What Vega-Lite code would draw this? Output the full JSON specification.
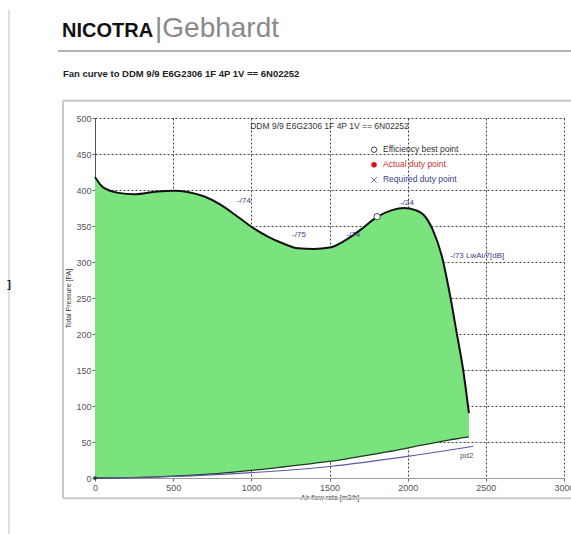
{
  "$schema": "https://vega.github.io/schema/vega-lite/v6.json",
  "autosize": {"type": "none"},
  "width": 469,
  "height": 360,
  "padding": {"left": 95, "top": 118, "right": 7, "bottom": 56},
  "background": "white",
  "config": {
    "view": {"stroke": null},
    "font": "Liberation Sans",
    "axis": {
      "grid": true,
      "gridDash": [2, 2],
      "gridColor": "#222",
      "gridOpacity": 0.85,
      "gridWidth": 1,
      "labelFont": "Liberation Sans",
      "labelFontSize": 9,
      "labelColor": "#555",
      "labelOverlap": false,
      "labelFlush": false,
      "format": "d",
      "tickSize": 3,
      "tickColor": "#666",
      "titleFont": "Liberation Sans",
      "titleFontSize": 7,
      "titleFontWeight": "normal",
      "titleColor": "#333",
      "zindex": 1
    },
    "axisX": {"tickCount": 6, "domainColor": "#999", "labelPadding": 2, "titlePadding": 1},
    "axisY": {"tickCount": 10, "domainColor": "#555", "labelPadding": 1, "titlePadding": 4}
  },
  "datasets": {
    "curve": [
      {"flow": 0, "fan": 418, "sys": 0},
      {"flow": 50, "fan": 404, "sys": 0},
      {"flow": 150, "fan": 396, "sys": 0.2},
      {"flow": 250, "fan": 394, "sys": 0.6},
      {"flow": 400, "fan": 398, "sys": 1.6},
      {"flow": 500, "fan": 399, "sys": 2.5},
      {"flow": 600, "fan": 397, "sys": 3.6},
      {"flow": 700, "fan": 391, "sys": 5},
      {"flow": 800, "fan": 380, "sys": 6.5},
      {"flow": 900, "fan": 365, "sys": 8.5},
      {"flow": 1000, "fan": 349, "sys": 10.5},
      {"flow": 1100, "fan": 336, "sys": 12.8},
      {"flow": 1200, "fan": 326, "sys": 15.3},
      {"flow": 1300, "fan": 319, "sys": 17.8},
      {"flow": 1400, "fan": 318, "sys": 20.4},
      {"flow": 1500, "fan": 320, "sys": 23},
      {"flow": 1600, "fan": 330, "sys": 26.3},
      {"flow": 1700, "fan": 345, "sys": 30},
      {"flow": 1800, "fan": 362, "sys": 33.5},
      {"flow": 1900, "fan": 372, "sys": 37.5},
      {"flow": 1975, "fan": 375, "sys": 40.5},
      {"flow": 2050, "fan": 372, "sys": 44},
      {"flow": 2100, "fan": 366, "sys": 46},
      {"flow": 2160, "fan": 345, "sys": 48.5},
      {"flow": 2220, "fan": 307, "sys": 51},
      {"flow": 2270, "fan": 255, "sys": 53},
      {"flow": 2315, "fan": 200, "sys": 54.5},
      {"flow": 2355, "fan": 150, "sys": 56},
      {"flow": 2392, "fan": 90, "sys": 57}
    ],
    "pd2": [
      {"flow": 0, "p": 0},
      {"flow": 500, "p": 2},
      {"flow": 1000, "p": 7.5},
      {"flow": 1500, "p": 16},
      {"flow": 2000, "p": 30},
      {"flow": 2420, "p": 44}
    ],
    "labels": [
      {"flow": 953, "p": 385, "t": "-/74"},
      {"flow": 1305, "p": 337, "t": "-/75"},
      {"flow": 1652, "p": 337, "t": "-/74"},
      {"flow": 1996, "p": 382, "t": "-/24"}
    ]
  },
  "layer": [
    {
      "data": {"values": [{}]},
      "mark": {"type": "rule", "stroke": "#c8c8c8", "strokeWidth": 2},
      "encoding": {
        "x": {"datum": -205, "type": "quantitative", "scale": {"domain": [0, 3000], "nice": false}, "axis": {"title": "Air flow rate [m3/h]"}},
        "x2": {"datum": 3300},
        "y": {"datum": 524, "type": "quantitative", "scale": {"domain": [0, 500], "nice": false}, "axis": {"title": "Total Pressure [PA]"}}
      }
    },
    {
      "data": {"values": [{}]},
      "mark": {"type": "rule", "stroke": "#c8c8c8", "strokeWidth": 2},
      "encoding": {
        "x": {"datum": -205, "type": "quantitative"},
        "x2": {"datum": 3300},
        "y": {"datum": -28, "type": "quantitative"}
      }
    },
    {
      "data": {"values": [{}]},
      "mark": {"type": "rule", "stroke": "#c8c8c8", "strokeWidth": 2},
      "encoding": {
        "x": {"datum": -205, "type": "quantitative"},
        "y": {"datum": 524, "type": "quantitative"},
        "y2": {"datum": -28}
      }
    },
    {
      "data": {"values": [{}]},
      "mark": {"type": "rule", "stroke": "#9a9a9a", "strokeWidth": 1.5},
      "encoding": {
        "x": {"datum": -237, "type": "quantitative"},
        "x2": {"datum": 3045},
        "y": {"datum": 593, "type": "quantitative"}
      }
    },
    {
      "data": {"values": [{}]},
      "mark": {"type": "rule", "stroke": "#d5d5d5", "strokeWidth": 1.5},
      "encoding": {
        "x": {"datum": -550, "type": "quantitative"},
        "y": {"datum": 650, "type": "quantitative"},
        "y2": {"datum": -78}
      }
    },
    {
      "data": {"values": [{"t": "NICOTRA"}]},
      "mark": {"type": "text", "align": "left", "baseline": "alphabetic", "fontSize": 20, "fontWeight": "bold", "color": "#111"},
      "encoding": {
        "x": {"datum": -211, "type": "quantitative"},
        "y": {"datum": 612, "type": "quantitative"},
        "text": {"field": "t"}
      }
    },
    {
      "data": {"values": [{"t": "|Gebhardt"}]},
      "mark": {"type": "text", "align": "left", "baseline": "alphabetic", "fontSize": 28, "color": "#8a8a8a"},
      "encoding": {
        "x": {"datum": 384, "type": "quantitative"},
        "y": {"datum": 612, "type": "quantitative"},
        "text": {"field": "t"}
      }
    },
    {
      "data": {"values": [{"t": "Fan curve to DDM 9/9 E6G2306 1F 4P 1V == 6N02252"}]},
      "mark": {"type": "text", "align": "left", "baseline": "alphabetic", "fontSize": 9.5, "fontWeight": "bold", "color": "#222"},
      "encoding": {
        "x": {"datum": -205, "type": "quantitative"},
        "y": {"datum": 557, "type": "quantitative"},
        "text": {"field": "t"}
      }
    },
    {
      "data": {"values": [{"t": "]"}]},
      "mark": {"type": "text", "align": "center", "baseline": "middle", "fontSize": 11, "fontWeight": "bold", "color": "#222"},
      "encoding": {
        "x": {"datum": -550, "type": "quantitative"},
        "y": {"datum": 268, "type": "quantitative"},
        "text": {"field": "t"}
      }
    },
    {
      "data": {"name": "curve"},
      "mark": {"type": "area", "color": "#7be37d", "interpolate": "monotone", "opacity": 1},
      "encoding": {
        "x": {"field": "flow", "type": "quantitative"},
        "y": {"field": "fan", "type": "quantitative"},
        "y2": {"field": "sys"}
      }
    },
    {
      "data": {"name": "curve"},
      "mark": {"type": "line", "color": "#111", "strokeWidth": 2, "interpolate": "monotone"},
      "encoding": {
        "x": {"field": "flow", "type": "quantitative"},
        "y": {"field": "fan", "type": "quantitative"}
      }
    },
    {
      "data": {"name": "curve"},
      "mark": {"type": "line", "color": "#1d3d1d", "strokeWidth": 1.3, "interpolate": "monotone"},
      "encoding": {
        "x": {"field": "flow", "type": "quantitative"},
        "y": {"field": "sys", "type": "quantitative"}
      }
    },
    {
      "data": {"name": "pd2"},
      "mark": {"type": "line", "color": "#5a5aa6", "strokeWidth": 1.1, "interpolate": "monotone"},
      "encoding": {
        "x": {"field": "flow", "type": "quantitative"},
        "y": {"field": "p", "type": "quantitative"}
      }
    },
    {
      "data": {"values": [{"t": "pd2"}]},
      "mark": {"type": "text", "align": "center", "baseline": "middle", "fontSize": 8, "color": "#555"},
      "encoding": {
        "x": {"datum": 2378, "type": "quantitative"},
        "y": {"datum": 31, "type": "quantitative"},
        "text": {"field": "t"}
      }
    },
    {
      "data": {"name": "labels"},
      "mark": {"type": "text", "align": "center", "baseline": "middle", "fontSize": 8, "color": "#3b3b8c"},
      "encoding": {
        "x": {"field": "flow", "type": "quantitative"},
        "y": {"field": "p", "type": "quantitative"},
        "text": {"field": "t"}
      }
    },
    {
      "data": {"values": [{"t": "-/73 LwAi/7[dB]"}]},
      "mark": {"type": "text", "align": "left", "baseline": "middle", "fontSize": 8, "color": "#3b3b8c"},
      "encoding": {
        "x": {"datum": 2271, "type": "quantitative"},
        "y": {"datum": 308, "type": "quantitative"},
        "text": {"field": "t"}
      }
    },
    {
      "data": {"values": [{"t": "DDM 9/9 E6G2306 1F 4P 1V == 6N02252"}]},
      "mark": {"type": "text", "align": "center", "baseline": "middle", "fontSize": 8.5, "color": "#333"},
      "encoding": {
        "x": {"datum": 1500, "type": "quantitative"},
        "y": {"datum": 489, "type": "quantitative"},
        "text": {"field": "t"}
      }
    },
    {
      "data": {"values": [{"flow": 1805, "p": 363}]},
      "mark": {"type": "point", "shape": "circle", "filled": true, "fill": "white", "stroke": "#444", "strokeWidth": 1, "size": 40, "opacity": 1},
      "encoding": {
        "x": {"field": "flow", "type": "quantitative"},
        "y": {"field": "p", "type": "quantitative"}
      }
    },
    {
      "data": {"values": [{"flow": 0, "p": 0}]},
      "mark": {"type": "point", "shape": "circle", "filled": true, "color": "#333", "size": 14, "opacity": 1},
      "encoding": {
        "x": {"field": "flow", "type": "quantitative"},
        "y": {"field": "p", "type": "quantitative"}
      }
    },
    {
      "data": {"values": [{"t": "Efficiency best point"}]},
      "layer": [
        {
          "mark": {"type": "point", "shape": "circle", "filled": true, "fill": "white", "stroke": "#444", "strokeWidth": 1, "size": 30, "opacity": 1},
          "encoding": {"x": {"datum": 1785, "type": "quantitative"}, "y": {"datum": 456, "type": "quantitative"}}
        },
        {
          "mark": {"type": "text", "align": "left", "baseline": "middle", "fontSize": 8.5, "color": "#333"},
          "encoding": {"x": {"datum": 1842, "type": "quantitative"}, "y": {"datum": 457, "type": "quantitative"}, "text": {"field": "t"}}
        }
      ]
    },
    {
      "data": {"values": [{"t": "Actual duty point"}]},
      "layer": [
        {
          "mark": {"type": "point", "shape": "circle", "filled": true, "color": "#e01010", "size": 30, "opacity": 1},
          "encoding": {"x": {"datum": 1785, "type": "quantitative"}, "y": {"datum": 435, "type": "quantitative"}}
        },
        {
          "mark": {"type": "text", "align": "left", "baseline": "middle", "fontSize": 8.5, "color": "#c83030"},
          "encoding": {"x": {"datum": 1842, "type": "quantitative"}, "y": {"datum": 436, "type": "quantitative"}, "text": {"field": "t"}}
        }
      ]
    },
    {
      "data": {"values": [{"t": "Required duty point"}]},
      "layer": [
        {
          "mark": {"type": "point", "shape": "M-1,-1L1,1M-1,1L1,-1", "filled": false, "stroke": "#6a6ab0", "strokeWidth": 1, "size": 30, "opacity": 1},
          "encoding": {"x": {"datum": 1785, "type": "quantitative"}, "y": {"datum": 414, "type": "quantitative"}}
        },
        {
          "mark": {"type": "text", "align": "left", "baseline": "middle", "fontSize": 8.5, "color": "#3b3b8c"},
          "encoding": {"x": {"datum": 1842, "type": "quantitative"}, "y": {"datum": 415, "type": "quantitative"}, "text": {"field": "t"}}
        }
      ]
    }
  ]
}
